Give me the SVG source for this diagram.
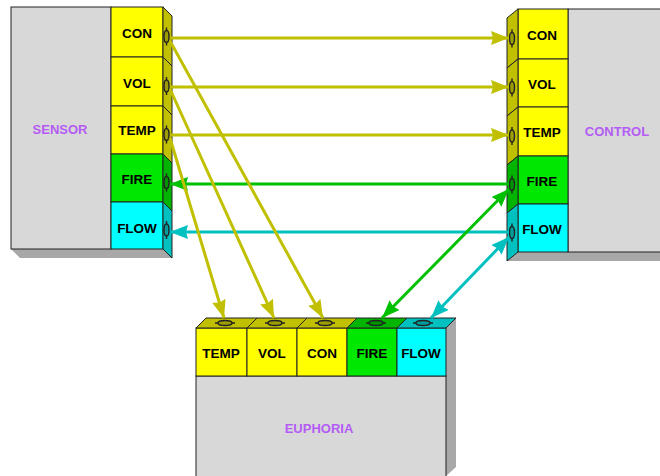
<svg xmlns="http://www.w3.org/2000/svg" width="660" height="476" viewBox="0 0 660 476">
<style>
  .main{fill:#d8d8d8;stroke:#222;stroke-width:1}
  .shade{fill:#a8a8a8;stroke:none}
  .y{fill:#ffff00;stroke:#222;stroke-width:1}
  .g{fill:#00e800;stroke:#222;stroke-width:1}
  .c{fill:#00ffff;stroke:#222;stroke-width:1}
  .ys{fill:#c0c000;stroke:#222;stroke-width:1}
  .gs{fill:#00b400;stroke:#222;stroke-width:1}
  .cs{fill:#00c0c0;stroke:#222;stroke-width:1}
  .lbl{font-family:"Liberation Sans",Arial,sans-serif;font-weight:bold;font-size:13.5px;fill:#000;text-anchor:middle}
  .name{font-family:"Liberation Sans",Arial,sans-serif;font-weight:bold;font-size:13px;fill:#b45cf5;text-anchor:middle}
  .plug{fill:rgba(0,0,0,0.18);stroke:#222;stroke-width:1.4}
  .stub{fill:none;stroke:#222;stroke-width:1.4}
  .ay{stroke:#c0c000;stroke-width:3;fill:none}
  .ag{stroke:#00c000;stroke-width:3;fill:none}
  .ac{stroke:#00c0c0;stroke-width:3;fill:none}
</style>
<defs>
  <marker id="hy" markerUnits="userSpaceOnUse" markerWidth="20" markerHeight="16" refX="18" refY="7" orient="auto-start-reverse"><path d="M0,0 L18,7 L0,14 L2,7 Z" fill="#c0c000"/></marker>
  <marker id="hg" markerUnits="userSpaceOnUse" markerWidth="20" markerHeight="16" refX="18" refY="7" orient="auto-start-reverse"><path d="M0,0 L18,7 L0,14 L2,7 Z" fill="#00c000"/></marker>
  <marker id="hc" markerUnits="userSpaceOnUse" markerWidth="20" markerHeight="16" refX="18" refY="7" orient="auto-start-reverse"><path d="M0,0 L18,7 L0,14 L2,7 Z" fill="#00c0c0"/></marker>
</defs>

<g id="sensor">
  <polygon class="shade" points="11,249 163,249 172,258 20,258"/>
  <rect class="main" x="11" y="7" width="100" height="242"/>
  <rect class="y" x="111" y="7" width="52" height="50"/>
  <rect class="y" x="111" y="57" width="52" height="49"/>
  <rect class="y" x="111" y="106" width="52" height="48"/>
  <rect class="g" x="111" y="154" width="52" height="48"/>
  <rect class="c" x="111" y="202" width="52" height="47"/>
  <polygon class="ys" points="163,7 172,16 172,66 163,57"/>
  <polygon class="ys" points="163,57 172,66 172,115 163,106"/>
  <polygon class="ys" points="163,106 172,115 172,163 163,154"/>
  <polygon class="gs" points="163,154 172,163 172,211 163,202"/>
  <polygon class="cs" points="163,202 172,211 172,258 163,249"/>
  <path class="stub" d="M166.5,27.5 v3 M166.5,42.5 v3 M166.5,77 v3 M166.5,92 v3 M166.5,125.5 v3 M166.5,140.5 v3 M166.5,173.5 v3 M166.5,188.5 v3 M166.5,221 v3 M166.5,236 v3"/>
  <ellipse class="plug" cx="166.5" cy="36.5" rx="2.5" ry="6"/>
  <ellipse class="plug" cx="166.5" cy="86" rx="2.5" ry="6"/>
  <ellipse class="plug" cx="166.5" cy="134.5" rx="2.5" ry="6"/>
  <ellipse class="plug" cx="166.5" cy="182.5" rx="2.5" ry="6"/>
  <ellipse class="plug" cx="166.5" cy="230" rx="2.5" ry="6"/>
  <text class="lbl" x="137" y="38">CON</text>
  <text class="lbl" x="137" y="88">VOL</text>
  <text class="lbl" x="137" y="135">TEMP</text>
  <text class="lbl" x="137" y="184">FIRE</text>
  <text class="lbl" x="137" y="233">FLOW</text>
  <text class="name" x="60" y="134">SENSOR</text>
</g>

<g id="control">
  <polygon class="shade" points="518,252 671,252 660,261 507,261"/>
  <rect class="main" x="568" y="9" width="100" height="243"/>
  <rect class="y" x="518" y="9" width="50" height="50"/>
  <rect class="y" x="518" y="59" width="50" height="48"/>
  <rect class="y" x="518" y="107" width="50" height="49"/>
  <rect class="g" x="518" y="156" width="50" height="48"/>
  <rect class="c" x="518" y="204" width="50" height="48"/>
  <polygon class="ys" points="518,9 507,18 507,68 518,59"/>
  <polygon class="ys" points="518,59 507,68 507,116 518,107"/>
  <polygon class="ys" points="518,107 507,116 507,165 518,156"/>
  <polygon class="gs" points="518,156 507,165 507,213 518,204"/>
  <polygon class="cs" points="518,204 507,213 507,261 518,252"/>
  <path class="stub" d="M512,29.5 v3 M512,44.5 v3 M512,78.5 v3 M512,93.5 v3 M512,127 v3 M512,142 v3 M512,175.5 v3 M512,190.5 v3 M512,223.5 v3 M512,238.5 v3"/>
  <ellipse class="plug" cx="512" cy="38.5" rx="2.5" ry="6"/>
  <ellipse class="plug" cx="512" cy="87.5" rx="2.5" ry="6"/>
  <ellipse class="plug" cx="512" cy="136" rx="2.5" ry="6"/>
  <ellipse class="plug" cx="512" cy="184.5" rx="2.5" ry="6"/>
  <ellipse class="plug" cx="512" cy="232.5" rx="2.5" ry="6"/>
  <text class="lbl" x="542" y="40">CON</text>
  <text class="lbl" x="542" y="89">VOL</text>
  <text class="lbl" x="542" y="137">TEMP</text>
  <text class="lbl" x="542" y="186">FIRE</text>
  <text class="lbl" x="542" y="234">FLOW</text>
  <text class="name" x="617" y="136">CONTROL</text>
</g>

<g id="euphoria">
  <polygon class="shade" points="446,328 456,318 456,467 446,476"/>
  <rect class="main" x="196" y="376" width="250" height="104"/>
  <rect class="y" x="196" y="328" width="51" height="48"/>
  <rect class="y" x="247" y="328" width="50" height="48"/>
  <rect class="y" x="297" y="328" width="50" height="48"/>
  <rect class="g" x="347" y="328" width="50" height="48"/>
  <rect class="c" x="397" y="328" width="49" height="48"/>
  <polygon class="ys" points="196,328 206,318 257,318 247,328"/>
  <polygon class="ys" points="247,328 257,318 307,318 297,328"/>
  <polygon class="ys" points="297,328 307,318 357,318 347,328"/>
  <polygon class="gs" points="347,328 357,318 407,318 397,328"/>
  <polygon class="cs" points="397,328 407,318 456,318 446,328"/>
  <path class="stub" d="M215,323 h3 M232,323 h3 M265,323 h3 M282,323 h3 M315,323 h3 M332,323 h3 M366,323 h3 M383,323 h3 M413,323 h3 M430,323 h3"/>
  <ellipse class="plug" cx="225" cy="323" rx="7" ry="2.5"/>
  <ellipse class="plug" cx="275" cy="323" rx="7" ry="2.5"/>
  <ellipse class="plug" cx="325" cy="323" rx="7" ry="2.5"/>
  <ellipse class="plug" cx="376" cy="323" rx="7" ry="2.5"/>
  <ellipse class="plug" cx="423" cy="323" rx="7" ry="2.5"/>
  <text class="lbl" x="221" y="358">TEMP</text>
  <text class="lbl" x="272" y="358">VOL</text>
  <text class="lbl" x="322" y="358">CON</text>
  <text class="lbl" x="372" y="358">FIRE</text>
  <text class="lbl" x="421" y="358">FLOW</text>
  <text class="name" x="319" y="433">EUPHORIA</text>
</g>

<g id="connectors">
  <line class="ay" x1="170" y1="38" x2="509" y2="38" marker-end="url(#hy)"/>
  <line class="ay" x1="170" y1="87" x2="509" y2="87" marker-end="url(#hy)"/>
  <line class="ay" x1="170" y1="135" x2="509" y2="135" marker-end="url(#hy)"/>
  <line class="ag" x1="509" y1="184" x2="170" y2="184" marker-end="url(#hg)"/>
  <line class="ac" x1="509" y1="232" x2="170" y2="232" marker-end="url(#hc)"/>
  <line class="ay" x1="170" y1="41" x2="323" y2="318" marker-end="url(#hy)"/>
  <line class="ay" x1="170" y1="89" x2="274" y2="318" marker-end="url(#hy)"/>
  <line class="ay" x1="170" y1="138" x2="224" y2="318" marker-end="url(#hy)"/>
  <line class="ag" x1="509" y1="189" x2="382" y2="318" marker-start="url(#hg)" marker-end="url(#hg)"/>
  <line class="ac" x1="509" y1="237" x2="431" y2="318" marker-start="url(#hc)" marker-end="url(#hc)"/>
</g>
</svg>
